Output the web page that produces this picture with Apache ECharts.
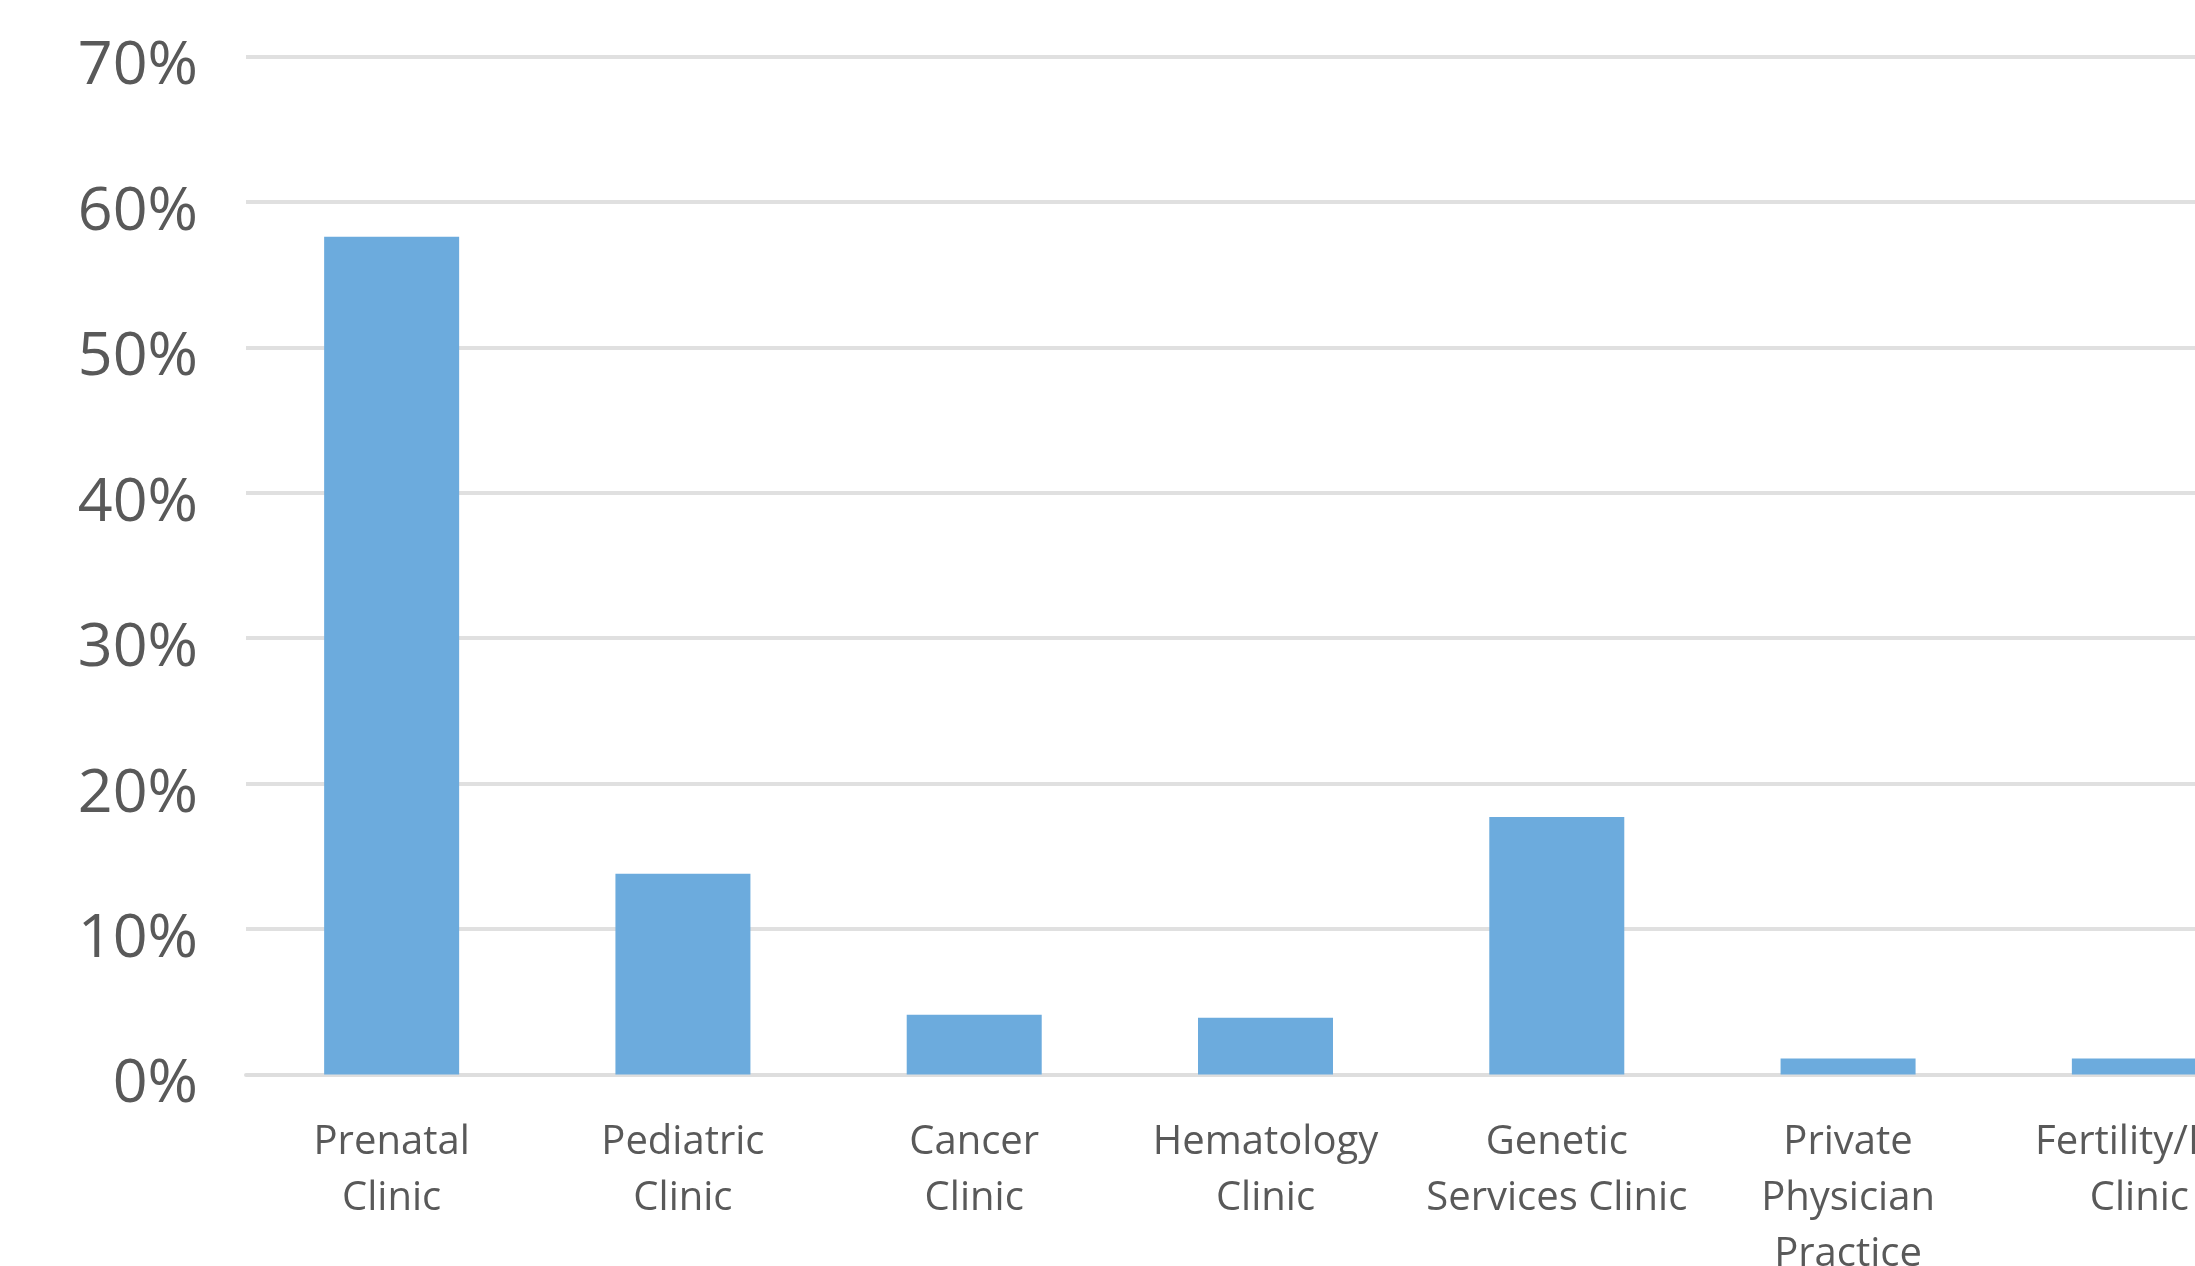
<!DOCTYPE html>
<html>
<head>
<meta charset="utf-8">
<script src="https://cdn.jsdelivr.net/npm/echarts@6/dist/echarts.min.js"></script>
<style>
  html, body { margin: 0; padding: 0; background: #fff; }
  #chart-container { width: 2195px; height: 1266px; }
</style>
</head>
<body>
<div id="chart-container"></div>
<script>
const categories = [
  "Prenatal\nClinic",
  "Pediatric\nClinic",
  "Cancer\nClinic",
  "Hematology\nClinic",
  "Genetic\nServices Clinic",
  "Private\nPhysician\nPractice",
  "Fertility/IVF\nClinic",
];
const shares = [57.6, 13.8, 4.1, 3.9, 17.7, 1.1, 1.1];
const yTicks = { min: 0, max: 70, interval: 10 };

(() => {
  var dom = document.getElementById("chart-container");
  var chart = echarts.init(dom, null, { renderer: "canvas" });
  const option = {
    animation: false,
    grid: {
      left: 246,
      width: 2039,
      top: 56.5,
      height: 1018,
      outerBoundsMode: "none",
      containLabel: false,
    },
    xAxis: {
      type: "category",
      data: categories,
      axisLine: { lineStyle: { color: "#dedede", width: 4 } },
      axisTick: { show: false },
      axisLabel: {
        interval: 0,
        margin: 40,
        color: "#595959",
        fontFamily: "Open Sans",
        fontSize: 40,
        lineHeight: 56,
        align: "center",
      },
    },
    yAxis: {
      type: "value",
      min: yTicks.min,
      max: yTicks.max,
      interval: yTicks.interval,
      axisLine: { show: false },
      axisTick: { show: false },
      splitLine: { lineStyle: { color: "#e0e0e0", width: 4 } },
      axisLabel: {
        formatter: "{value}%",
        margin: 48,
        color: "#595959",
        fontFamily: "Open Sans",
        fontSize: 61,
        verticalAlign: "top",
        padding: [-20, 0, 0, 0],
      },
    },
    series: [
      {
        type: "bar",
        data: shares,
        barWidth: 135,
        itemStyle: { color: "#6cabdd" },
      },
    ],
  };
  chart.setOption(option);
  window.addEventListener("resize", chart.resize);
})();
</script>
</body>
</html>
